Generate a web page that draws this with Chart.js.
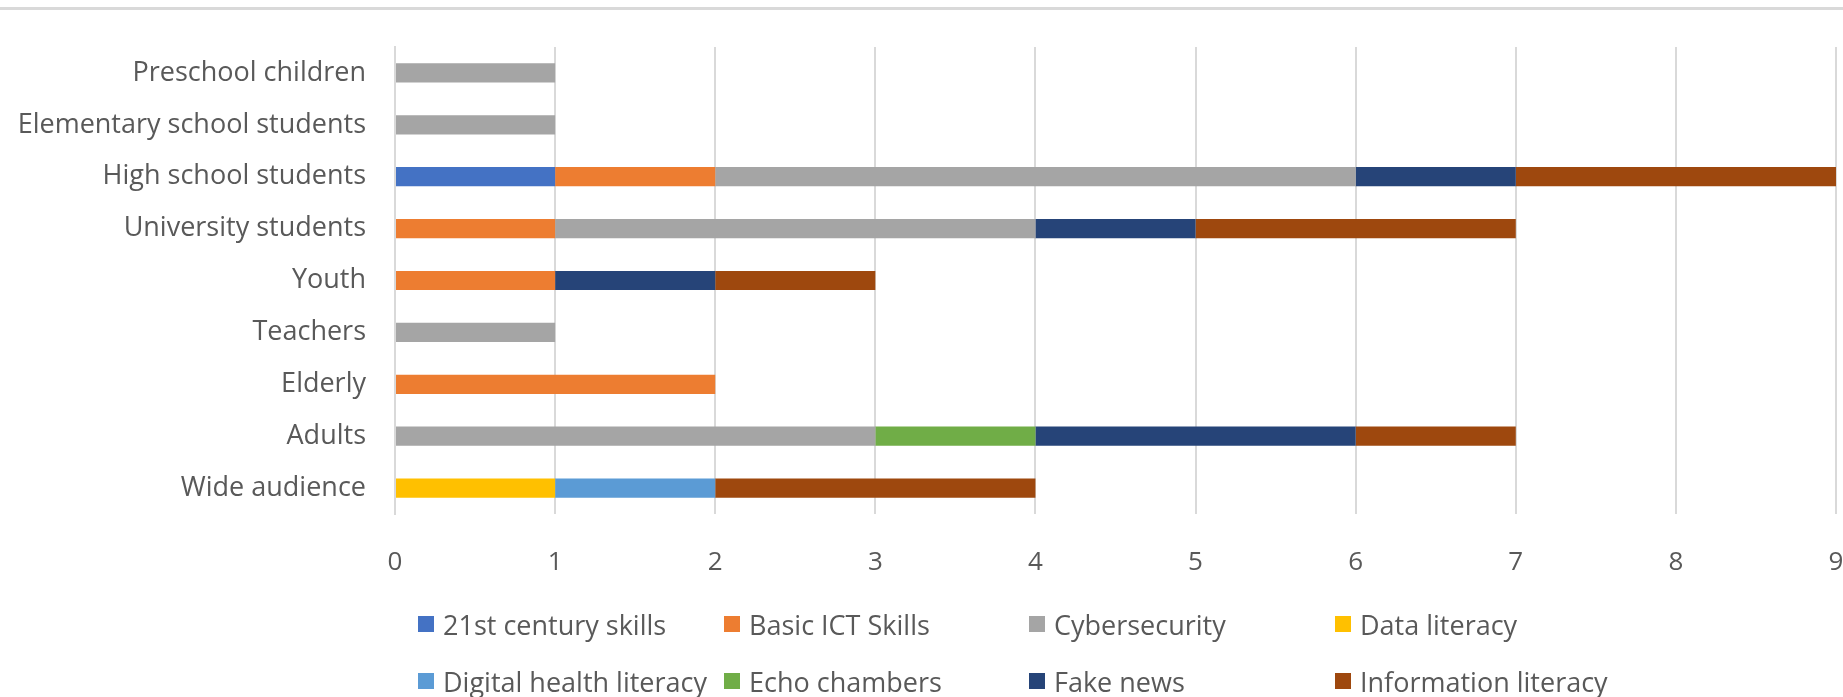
<!DOCTYPE html>
<html>
<head>
<meta charset="utf-8">
<script src="https://cdn.jsdelivr.net/npm/chart.js@4.4.1/dist/chart.umd.min.js"></script>
<style>
  html, body { margin: 0; padding: 0; background: #fff; }
  #wrap { position: relative; width: 1843px; height: 697px; overflow: hidden; }
  #topline { position: absolute; left: 0; top: 7px; width: 1843px; height: 3px; background: #d9d9d9; }
  #legend { position: absolute; left: 0; top: 0; width: 1843px; height: 697px; pointer-events: none; }
  .item { position: absolute; display: flex; align-items: center; font-family: "Open Sans", sans-serif; font-size: 27px; color: #595959; white-space: nowrap; line-height: 1; }
  .item span.box { display: inline-block; width: 16px; height: 16px; margin-right: 9px; }
</style>
</head>
<body>
<div id="wrap">
  <canvas id="myChart" width="1843" height="697"></canvas>
  <div id="topline"></div>
  <div id="legend"></div>
</div>
<script>
  // categories top to bottom
  const audiences = ['Preschool children', 'Elementary school students', 'High school students',
    'University students', 'Youth', 'Teachers', 'Elderly', 'Adults', 'Wide audience'];

  const topics = ['21st century skills', 'Basic ICT Skills', 'Cybersecurity', 'Data literacy',
    'Digital health literacy', 'Echo chambers', 'Fake news', 'Information literacy'];

  const colors = ['#4472c4', '#ed7d31', '#a5a5a5', '#ffc000', '#5b9bd5', '#70ad47', '#264478', '#9e480e'];

  // counts per audience
  const skills21 = [0, 0, 1, 0, 0, 0, 0, 0, 0];
  const basicICT = [0, 0, 1, 1, 1, 0, 2, 0, 0];
  const cyber    = [1, 1, 4, 3, 0, 1, 0, 3, 0];
  const dataLit  = [0, 0, 0, 0, 0, 0, 0, 0, 1];
  const health   = [0, 0, 0, 0, 0, 0, 0, 0, 1];
  const echo     = [0, 0, 0, 0, 0, 0, 0, 1, 0];
  const fake     = [0, 0, 1, 1, 1, 0, 0, 2, 0];
  const infoLit  = [0, 0, 2, 2, 1, 0, 0, 1, 2];

  const xTicks = [0, 1, 2, 3, 4, 5, 6, 7, 8, 9];

  const series = [skills21, basicICT, cyber, dataLit, health, echo, fake, infoLit];

  const txt = '#595959';
  const labelFont = { family: '"Open Sans", sans-serif', size: 27 };
  const tickFont = { family: '"Open Sans", sans-serif', size: 26 };

  var ctx = document.getElementById('myChart');
  var myChart = new Chart(ctx, {
    type: 'bar',
    data: {
      labels: audiences,
      datasets: series.map((d, i) => ({
        label: topics[i],
        data: d.map(v => v === 0 ? null : v),
        backgroundColor: colors[i],
        borderWidth: 0,
        barPercentage: 0.37,
        categoryPercentage: 1
      }))
    },
    options: {
      indexAxis: 'y',
      responsive: false,
      animation: false,
      layout: { padding: { top: 47, right: 7, left: 0, bottom: 113 } },
      plugins: { legend: { display: false }, tooltip: { enabled: false } },
      scales: {
        x: {
          stacked: true,
          min: xTicks[0],
          max: xTicks[xTicks.length - 1],
          ticks: { stepSize: 1, color: txt, font: tickFont, padding: 33 },
          grid: { color: '#d9d9d9', lineWidth: 2, drawTicks: false },
          border: { display: false },
          afterFit: s => { s.height = 70; s.paddingLeft = 0; s.paddingRight = 0; }
        },
        y: {
          stacked: true,
          ticks: { color: txt, font: labelFont, padding: 29 },
          grid: { display: false, drawTicks: false },
          border: { display: true, color: '#d9d9d9', width: 2 },
          afterFit: s => { s.width = 395; s.paddingTop = 0; s.paddingBottom = 0; }
        }
      }
    }
  });

  // legend in fixed columns like the original
  const colX = [418, 724, 1029, 1335];
  const rowY = [624, 681];
  const leg = document.getElementById('legend');
  myChart.data.datasets.forEach((ds, i) => {
    const el = document.createElement('div');
    el.className = 'item';
    el.style.left = colX[i % 4] + 'px';
    el.style.top = (rowY[Math.floor(i / 4)] - 16) + 'px';
    el.style.height = '32px';
    const b = document.createElement('span');
    b.className = 'box';
    b.style.background = ds.backgroundColor;
    el.appendChild(b);
    el.appendChild(document.createTextNode(ds.label));
    leg.appendChild(el);
  });
</script>
</body>
</html>
